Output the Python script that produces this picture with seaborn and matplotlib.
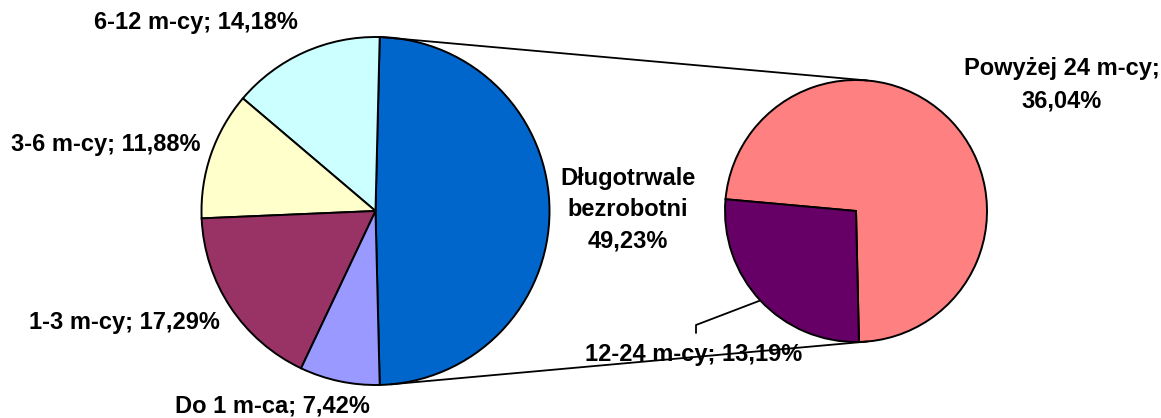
import numpy as np
import matplotlib
matplotlib.use("Agg")
import matplotlib.pyplot as plt
import seaborn as sns

# =========================
# Data
# =========================
# main pie, counter-clockwise from the split slice
main_labels = ["Długotrwale\nbezrobotni", "6-12 m-cy", "3-6 m-cy", "1-3 m-cy", "Do 1 m-ca"]
main_values = [49.23, 14.18, 11.88, 17.29, 7.42]
main_colors = ["#0066CC", "#CCFFFF", "#FFFFCC", "#993366", "#9999FF"]

# secondary pie (breakdown of long-term unemployed)
sub_labels = ["Powyżej 24 m-cy", "12-24 m-cy"]
sub_values = [36.04, 13.19]
sub_colors = ["#FF8080", "#660066"]


def pct(v):
    return f"{v:.2f}%".replace(".", ",")


# =========================
# Style
# =========================
sns.set_style("white")
plt.rcParams["font.family"] = ["Liberation Sans", "DejaVu Sans"]
plt.rcParams["font.weight"] = "bold"

W, H = 1161, 418
fig = plt.figure(figsize=(W / 100, H / 100), dpi=100)
ax = fig.add_axes([0, 0, 1, 1])
ax.set_xlim(0, W)
ax.set_ylim(0, H)
ax.set_aspect("equal")
ax.axis("off")

# pixel-like layout helpers (y measured from the top)
def py(y):
    return H - y

main_c = (375.5, py(211))
main_r = 174
sub_c = (856, py(211))
sub_r = 131

# split slice centred on the horizontal axis
main_start = -main_values[0] / sum(main_values) * 180
ax.pie(main_values, colors=main_colors, center=main_c, radius=main_r,
       startangle=main_start, counterclock=True,
       wedgeprops=dict(edgecolor="black", linewidth=1.4))

sub_frac = sub_values[1] / sum(sub_values)
sub_start = -88.7
ax.pie(sub_values, colors=sub_colors, center=sub_c, radius=sub_r,
       startangle=sub_start, counterclock=True,
       wedgeprops=dict(edgecolor="black", linewidth=1.4))

ax.set_xlim(0, W)
ax.set_ylim(0, H)


def on_circle(c, r, ang):
    a = np.deg2rad(ang)
    return c[0] + r * np.cos(a), c[1] + r * np.sin(a)


# connector lines between the pies
for a_main, a_sub in [(88.2, 85), (-85, -85)]:
    x0, y0 = on_circle(main_c, main_r, a_main)
    x1, y1 = on_circle(sub_c, sub_r, a_sub)
    ax.plot([x0, x1], [y0, y1], color="black", lw=1.3, zorder=5)

# =========================
# Labels
# =========================
fs = 17
txt = dict(fontsize=fs, fontweight="bold", ha="center", va="center",
           color="black")

ax.text(196, py(23), f"{main_labels[1]}; {pct(main_values[1])}", **txt)
ax.text(106, py(145), f"{main_labels[2]}; {pct(main_values[2])}", **txt)
ax.text(124, py(323), f"{main_labels[3]}; {pct(main_values[3])}", **txt)
ax.text(272, py(406), f"{main_labels[4]}; {pct(main_values[4])}", **txt)
ax.text(628, py(210), f"{main_labels[0]}\n{pct(main_values[0])}",
        linespacing=1.45, **txt)

ax.text(1062, py(85), f"{sub_labels[0]};\n{pct(sub_values[0])}",
        linespacing=1.55, **txt)
ax.text(694, py(355), f"{sub_labels[1]}; {pct(sub_values[1])}", zorder=4, **txt)

# leader line for the 12-24 slice
mid = sub_start + 360 * (1 - sub_frac) + 180 * sub_frac
lx, ly = on_circle(sub_c, sub_r, mid)
ax.plot([lx, 696, 696], [ly, py(325), py(333)], color="black", lw=1.3)

fig.savefig("out.png", dpi=100)
